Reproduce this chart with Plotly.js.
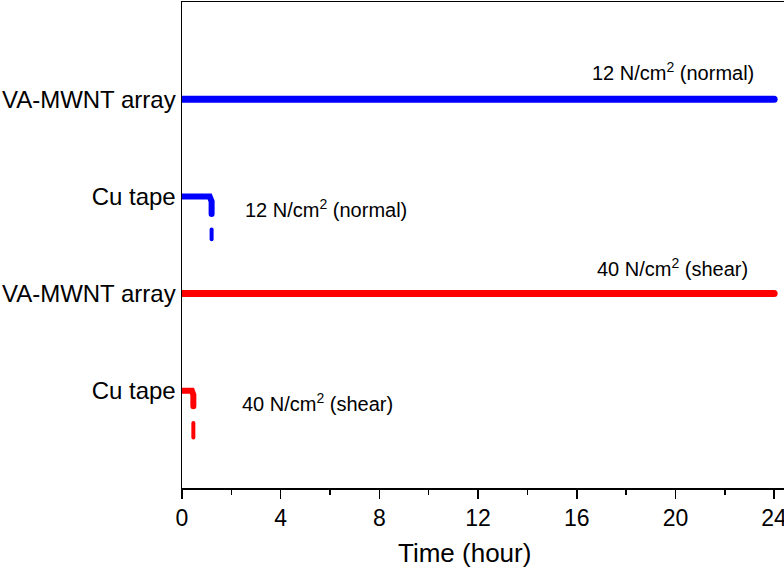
<!DOCTYPE html>
<html>
<head>
<meta charset="utf-8">
<script src="https://cdn.plot.ly/plotly-3.0.1.min.js"></script>
<style>
  html, body { margin: 0; padding: 0; background: #fff; }
  #chart { width: 784px; height: 569px; }
  .scatterlayer path.js-line { stroke-linecap: round; }
</style>
</head>
<body>
<div id="chart"></div>
<script>
// Sample rows (bottom to top) and their labels
const rowLevels = [4, 3, 2, 1];
const rowLabels = ['VA-MWNT array', 'Cu tape', 'VA-MWNT array', 'Cu tape'];

// Adhesion hold time (hour) vs. row level; the drop marks detachment
const vaNormalTime = [0, 24];
const vaNormalLevel = [4, 4];

const cuNormalTime = [0, 1.12, 1.2, 1.2];
const cuNormalLevel = [3, 3, 2.95, 2.82];
const cuNormalTailTime = [1.2, 1.2];
const cuNormalTailLevel = [2.66, 2.56];

const vaShearTime = [0, 24];
const vaShearLevel = [2, 2];

const cuShearTime = [0, 0.4, 0.46, 0.46];
const cuShearLevel = [1, 1, 0.96, 0.84];
const cuShearTailTime = [0.46, 0.46];
const cuShearTailLevel = [0.67, 0.52];

// Load annotations
const loadText = ['12 N/cm<sup>2</sup> (normal)', '12 N/cm<sup>2</sup> (normal)',
                  '40 N/cm<sup>2</sup> (shear)', '40 N/cm<sup>2</sup> (shear)'];
const loadX = [19.9, 5.85, 19.9, 5.5];
const loadY = [4.28, 2.88, 2.27, 0.88];

const xTicks = [0, 4, 8, 12, 16, 20, 24];

const BLUE = '#0000ff';
const RED = '#ff0000';
const FONT = 'Liberation Sans, Arial, sans-serif';

function line(x, y, color, width) {
  return { x: x, y: y, type: 'scatter', mode: 'lines',
           line: { color: color, width: width }, hoverinfo: 'skip', showlegend: false };
}

const traces = [
  line(vaNormalTime, vaNormalLevel, BLUE, 7),
  line(cuNormalTime, cuNormalLevel, BLUE, 6),
  line(cuNormalTailTime, cuNormalTailLevel, BLUE, 4),
  line(vaShearTime, vaShearLevel, RED, 7),
  line(cuShearTime, cuShearLevel, RED, 6),
  line(cuShearTailTime, cuShearTailLevel, RED, 4)
];

const annotations = loadText.map((t, i) => ({
  text: t, x: loadX[i], y: loadY[i], xref: 'x', yref: 'y',
  showarrow: false, xanchor: 'center', yanchor: 'middle',
  font: { family: FONT, size: 20, color: '#000' }
}));

// x-axis title
annotations.push({
  text: 'Time (hour)', xref: 'paper', yref: 'paper', x: 0.47, y: -0.134,
  xanchor: 'center', yanchor: 'middle', showarrow: false,
  font: { family: FONT, size: 26, color: '#000' }
});

const layout = {
  width: 784, height: 569,
  margin: { l: 182, r: 0, t: 2, b: 81 },
  paper_bgcolor: '#fff', plot_bgcolor: '#fff',
  font: { family: FONT, color: '#000' },
  showlegend: false,
  xaxis: {
    range: [0, 24.4], tickvals: xTicks, ticktext: xTicks.map(String),
    ticks: 'outside', ticklen: 9, tickwidth: 1.5, tickcolor: '#000',
    ticklabeloverflow: 'allow',
    minor: { dtick: 2, tick0: 0, ticks: 'outside', ticklen: 5, tickwidth: 1.5, tickcolor: '#000' },
    showline: true, linewidth: 1.5, linecolor: '#000', mirror: true,
    showgrid: false, zeroline: false,
    tickfont: { size: 23, color: '#000' }
  },
  yaxis: {
    range: [0, 5], tickvals: rowLevels, ticktext: rowLabels, ticks: '',
    showline: true, linewidth: 1.5, linecolor: '#000', mirror: false,
    showgrid: false, zeroline: false,
    tickfont: { size: 24, color: '#000' }
  },
  annotations: annotations
};

Plotly.newPlot('chart', traces, layout, { staticPlot: true, displayModeBar: false });
</script>
</body>
</html>
